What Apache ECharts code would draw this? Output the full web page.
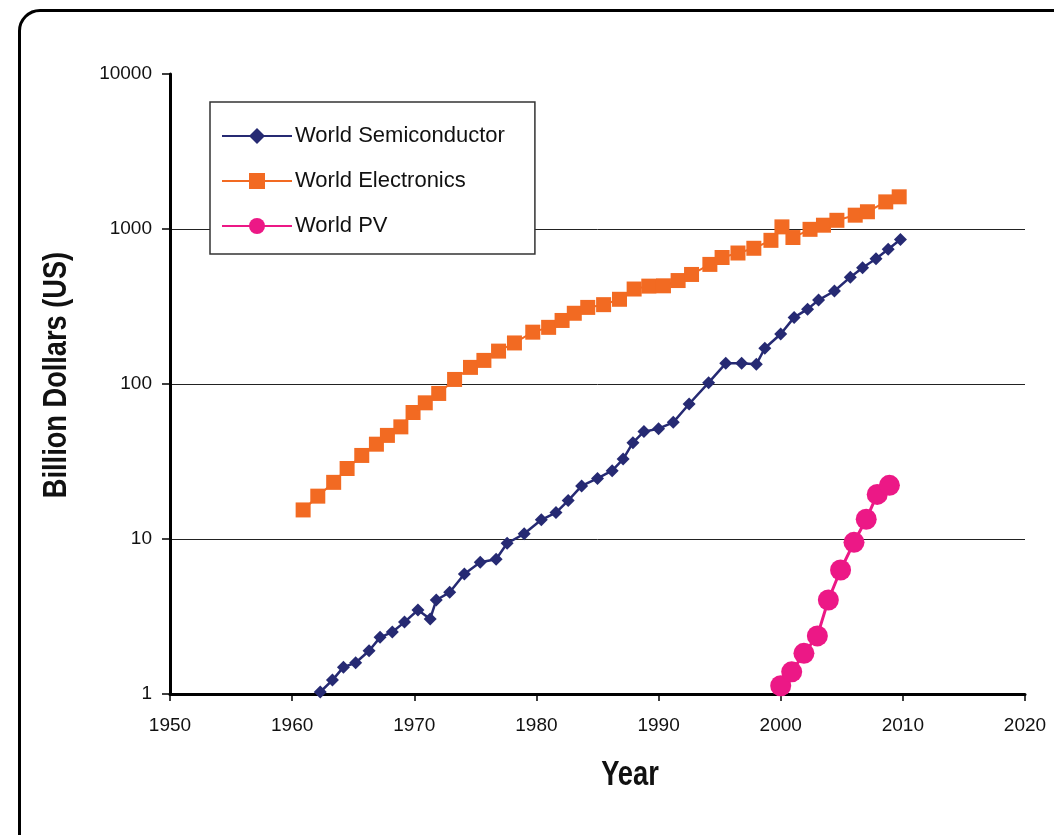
<!DOCTYPE html>
<html>
<head>
<meta charset="utf-8">
<script src="https://cdn.jsdelivr.net/npm/echarts@6/dist/echarts.min.js"></script>
<style>
  html, body { margin: 0; padding: 0; background: #fff; }
  #frame {
    position: absolute; left: 18px; top: 9px; width: 1100px; height: 900px;
    border: 3px solid #000; border-radius: 22px; box-sizing: border-box;
  }
  #chart { position: absolute; left: 0; top: 0; width: 1054px; height: 835px; }
</style>
</head>
<body>
<div id="frame"></div>
<div id="chart"></div>
<script>
// World Semiconductor (year, billion $)
const semiYears = [1962.3, 1963.3, 1964.2, 1965.2, 1966.3, 1967.2, 1968.2, 1969.2, 1970.3, 1971.3,
  1971.8, 1972.9, 1974.1, 1975.4, 1976.7, 1977.6, 1979.0, 1980.4, 1981.6, 1982.6,
  1983.7, 1985.0, 1986.2, 1987.1, 1987.9, 1988.8, 1990.0, 1991.2, 1992.5, 1994.1,
  1995.5, 1996.8, 1998.0, 1998.7, 2000.0, 2001.1, 2002.2, 2003.1, 2004.4, 2005.7,
  2006.7, 2007.8, 2008.8, 2009.8];
const semiValues = [1.03, 1.23, 1.49, 1.59, 1.9, 2.32, 2.51, 2.91, 3.48, 3.05,
  4.04, 4.53, 5.95, 7.07, 7.4, 9.39, 10.8, 13.3, 14.8, 17.7,
  22.0, 24.6, 27.6, 32.8, 41.8, 49.3, 51.5, 56.6, 74.3, 102,
  136, 136, 134, 170, 210, 269, 304, 348, 398, 489,
  562, 643, 741, 856];

// World Electronics
const elecYears = [1960.9, 1962.1, 1963.4, 1964.5, 1965.7, 1966.9, 1967.8, 1968.9, 1969.9, 1970.9,
  1972.0, 1973.3, 1974.6, 1975.7, 1976.9, 1978.2, 1979.7, 1981.0, 1982.1, 1983.1,
  1984.2, 1985.5, 1986.8, 1988.0, 1989.2, 1990.4, 1991.6, 1992.7, 1994.2, 1995.2,
  1996.5, 1997.8, 1999.2, 2000.1, 2001.0, 2002.4, 2003.5, 2004.6, 2006.1, 2007.1,
  2008.6, 2009.7];
const elecValues = [15.4, 18.9, 23.2, 28.5, 34.6, 40.9, 46.6, 52.9, 65.5, 75.6,
  86.9, 107, 128, 142, 163, 184, 216, 232, 257, 286,
  312, 325, 352, 410, 428, 430, 465, 509, 591, 655,
  700, 751, 845, 1032, 881, 995, 1058, 1138, 1228, 1292,
  1496, 1613];

// World PV
const pvYears = [2000.0, 2000.9, 2001.9, 2003.0, 2003.9, 2004.9, 2006.0, 2007.0, 2007.9, 2008.9];
const pvValues = [1.13, 1.39, 1.83, 2.37, 4.04, 6.31, 9.52, 13.4, 19.4, 22.2];

const zip = (xs, ys) => xs.map((x, i) => [x, ys[i]]);

const chart = echarts.init(document.getElementById('chart'));
const font = 'Liberation Sans, Arial, sans-serif';

chart.setOption({
  animation: false,
  grid: { left: 170, right: 29, top: 74, bottom: 141 },
  // axis titles: bold, squeezed to look condensed
  graphic: [
    {
      type: 'text',
      x: 57, y: 375,
      rotation: Math.PI / 2,
      scaleX: 0.8,
      style: {
        text: 'Billion Dollars (US)',
        font: 'bold 34px Liberation Sans, Arial, sans-serif',
        fill: '#111',
        align: 'center',
        verticalAlign: 'middle'
      }
    },
    {
      type: 'text',
      x: 630, y: 775,
      scaleX: 0.78,
      style: {
        text: 'Year',
        font: 'bold 35px Liberation Sans, Arial, sans-serif',
        fill: '#111',
        align: 'center',
        verticalAlign: 'middle'
      }
    }
  ],
  legend: {
    orient: 'vertical',
    left: 210,
    top: 102,
    padding: [23, 30, 17, 11],
    itemGap: 23,
    itemWidth: 70,
    itemHeight: 20,
    backgroundColor: '#fff',
    borderColor: '#333',
    borderWidth: 1.5,
    borderRadius: 0,
    textStyle: { fontFamily: font, fontSize: 22, color: '#111', padding: [0, 0, 0, -2] },
    data: ['World Semiconductor', 'World Electronics', 'World PV']
  },
  xAxis: {
    type: 'value',
    min: 1950,
    max: 2020,
    interval: 10,
    axisLine: { lineStyle: { color: '#000', width: 3 } },
    axisTick: { show: true, length: 7, lineStyle: { color: '#000', width: 1.5 } },
    axisLabel: { fontFamily: font, fontSize: 19, color: '#111', margin: 22, formatter: v => String(v) },
    splitLine: { show: false }
  },
  yAxis: {
    type: 'log',
    logBase: 10,
    min: 1,
    max: 10000,
    axisLine: { show: true, lineStyle: { color: '#000', width: 3 } },
    axisTick: { show: true, length: 8, lineStyle: { color: '#000', width: 1.5 } },
    axisLabel: { fontFamily: font, fontSize: 19, color: '#111', margin: 18, formatter: v => String(Math.round(v)) },
    splitLine: { show: true, showMinLine: false, showMaxLine: false, lineStyle: { color: '#222', width: 1 } }
  },
  series: [
    {
      name: 'World Semiconductor',
      type: 'line',
      data: zip(semiYears, semiValues),
      symbol: 'diamond',
      symbolSize: 13,
      color: '#262a73',
      lineStyle: { width: 2.5, color: '#262a73' },
      itemStyle: { color: '#262a73' },
      z: 2
    },
    {
      name: 'World Electronics',
      type: 'line',
      data: zip(elecYears, elecValues),
      symbol: 'rect',
      symbolSize: 15,
      color: '#f26a22',
      lineStyle: { width: 2, color: '#f26a22' },
      itemStyle: { color: '#f26a22' },
      z: 3
    },
    {
      name: 'World PV',
      type: 'line',
      data: zip(pvYears, pvValues),
      symbol: 'circle',
      symbolSize: 21,
      color: '#ec1886',
      lineStyle: { width: 3, color: '#ec1886' },
      itemStyle: { color: '#ec1886' },
      z: 4
    }
  ]
});
</script>
</body>
</html>
